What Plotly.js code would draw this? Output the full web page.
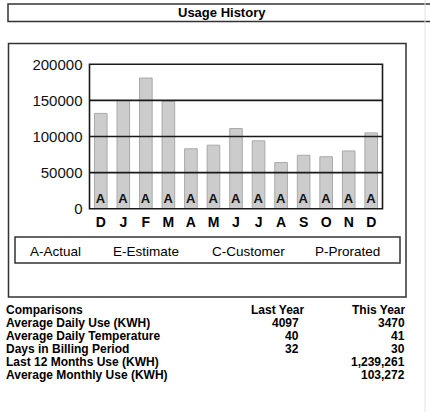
<!DOCTYPE html>
<html>
<head>
<meta charset="utf-8">
<script src="https://cdn.plot.ly/plotly-3.0.1.min.js"></script>
<style>
  html, body { margin: 0; padding: 0; background: #fff; }
  #chart { width: 430px; height: 412px; }
</style>
</head>
<body>
<div id="chart"></div>
<script>
// ---- data ----
const monthLabels = ['D','J','F','M','A','M','J','J','A','S','O','N','D'];
const usageKwh = [132000, 150000, 181000, 149000, 83000, 88000, 111000, 94000, 64000, 74000, 72000, 80000, 105000];
const readCodes = ['A','A','A','A','A','A','A','A','A','A','A','A','A'];
const yTicks = [0, 50000, 100000, 150000, 200000];
const codeLegend = ['A-Actual', 'E-Estimate', 'C-Customer', 'P-Prorated'];
const compHeader = ['Comparisons', 'Last Year', 'This Year'];
const compLabels = ['Average Daily Use (KWH)', 'Average Daily Temperature', 'Days in Billing Period', 'Last 12 Months Use (KWH)', 'Average Monthly Use (KWH)'];
const compLastYear = ['4097', '40', '32', '', ''];
const compThisYear = ['3470', '41', '30', '1,239,261', '103,272'];
const chartTitle = 'Usage History';

// ---- layout helpers (pixel -> paper) ----
const W = 430, H = 412;
const px = x => x / W;
const py = y => 1 - y / H;
const FONT = 'Liberation Sans, Arial, sans-serif';

const xIdx = monthLabels.map((_, i) => i);

const trace = {
  type: 'bar',
  x: xIdx,
  y: usageKwh,
  text: readCodes,
  textposition: 'inside',
  insidetextanchor: 'start',
  constraintext: 'none',
  textangle: 0,
  textfont: { family: FONT, size: 13, color: '#111', weight: 'bold' },
  marker: { color: '#cccccc', line: { color: '#a9a9a9', width: 1 } },
  hoverinfo: 'none'
};

const shapes = [];
// horizontal grid lines drawn above the bars
yTicks.forEach(v => {
  shapes.push({ type: 'line', xref: 'x domain', yref: 'y', x0: 0, x1: 1, y0: v, y1: v,
    line: { color: '#1a1a1a', width: 1.6 }, layer: 'above' });
});
// plot frame
shapes.push({ type: 'rect', xref: 'x domain', yref: 'y domain', x0: 0, x1: 1, y0: 0, y1: 1,
  line: { color: '#1a1a1a', width: 1.6 }, layer: 'above' });
// title bar frame
shapes.push({ type: 'rect', xref: 'paper', yref: 'paper', x0: px(8), x1: px(436), y0: py(21.5), y1: py(4),
  line: { color: '#333', width: 1.5 } });
// main chart frame
shapes.push({ type: 'rect', xref: 'paper', yref: 'paper', x0: px(8.5), x1: px(406), y0: py(297), y1: py(43.5),
  line: { color: '#333', width: 1.5 } });
// code legend frame
shapes.push({ type: 'rect', xref: 'paper', yref: 'paper', x0: px(15), x1: px(400), y0: py(263), y1: py(237),
  line: { color: '#333', width: 1.5 } });
// faint right edge line
shapes.push({ type: 'line', xref: 'paper', yref: 'paper', x0: px(425), x1: px(425), y0: 0, y1: 1,
  line: { color: '#e2e2e2', width: 1 } });

const annotations = [];
annotations.push({ text: '<b>' + chartTitle + '</b>', xref: 'paper', yref: 'paper', x: px(222), y: py(12.8),
  showarrow: false, xanchor: 'center', yanchor: 'middle', borderpad: 0,
  font: { family: FONT, size: 13, color: '#000' } });

const legendX = [55.5, 146, 248, 347];
codeLegend.forEach((t, i) => {
  annotations.push({ text: t, xref: 'paper', yref: 'paper', x: px(legendX[i]), y: py(251.5),
    showarrow: false, xanchor: 'center', yanchor: 'middle', borderpad: 0,
    font: { family: FONT, size: 13.5, color: '#000' } });
});

const rowY0 = 310, rowStep = 13;
const TF = { family: FONT, size: 12, color: '#000' };
const rows = [compHeader].concat(compLabels.map((l, i) => [l, compLastYear[i], compThisYear[i]]));
rows.forEach((r, i) => {
  const y = py(rowY0 + i * rowStep);
  annotations.push({ text: '<b>' + r[0] + '</b>', xref: 'paper', yref: 'paper', x: px(5), y: y,
    showarrow: false, xanchor: 'left', yanchor: 'middle', borderpad: 0, font: TF });
  if (r[1]) annotations.push({ text: '<b>' + r[1] + '</b>', xref: 'paper', yref: 'paper', x: px(i === 0 ? 305 : 300), y: y,
    showarrow: false, xanchor: 'right', yanchor: 'middle', borderpad: 0, font: TF });
  if (r[2]) annotations.push({ text: '<b>' + r[2] + '</b>', xref: 'paper', yref: 'paper', x: px(406), y: y,
    showarrow: false, xanchor: 'right', yanchor: 'middle', borderpad: 0, font: TF });
});

const layout = {
  width: W, height: H,
  margin: { l: 0, r: 0, t: 0, b: 0 },
  paper_bgcolor: '#fff', plot_bgcolor: '#fff',
  showlegend: false,
  bargap: 0.44,
  xaxis: {
    domain: [px(89.5), px(382.5)],
    tickmode: 'array', tickvals: xIdx, ticktext: monthLabels,
    range: [-0.5, monthLabels.length - 0.5],
    showgrid: false, zeroline: false, showline: false, ticks: '',
    ticklabelstandoff: 3,
    tickfont: { family: FONT, size: 14, color: '#000', weight: 'bold' },
    fixedrange: true
  },
  yaxis: {
    domain: [py(208.7), py(64.3)],
    range: [0, 200000],
    tickmode: 'array', tickvals: yTicks, ticktext: yTicks.map(String),
    showgrid: false, zeroline: false, showline: false, ticks: '',
    ticklabelstandoff: 6,
    tickfont: { family: FONT, size: 15, color: '#111' },
    fixedrange: true
  },
  shapes: shapes,
  annotations: annotations
};

Plotly.newPlot('chart', [trace], layout, { displayModeBar: false, staticPlot: true });
</script>
</body>
</html>
